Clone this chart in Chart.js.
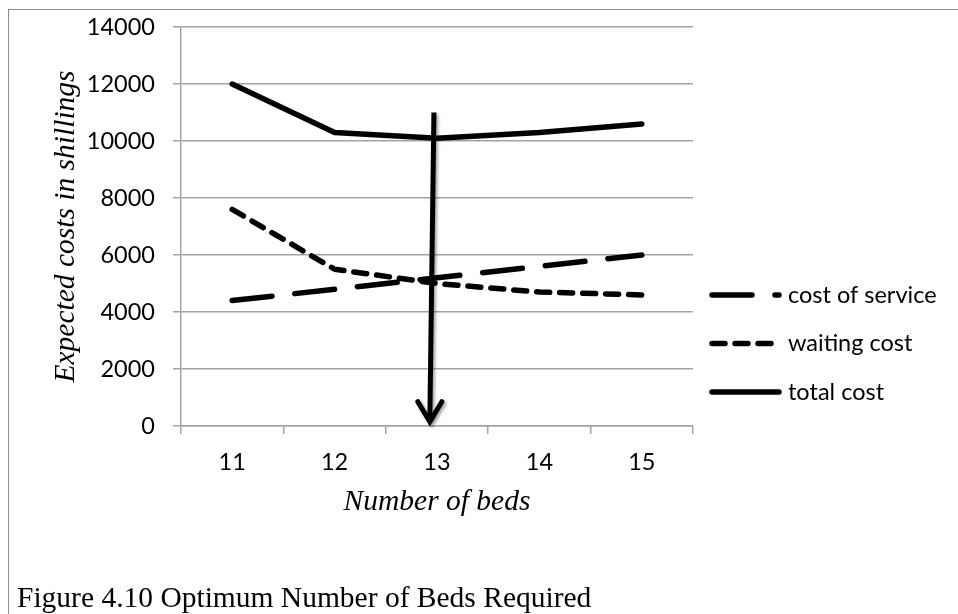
<!DOCTYPE html>
<html>
<head>
<meta charset="utf-8">
<script src="https://cdn.jsdelivr.net/npm/chart.js@4"></script>
<style>
  html, body { margin: 0; padding: 0; background: #fff; overflow: hidden; }
  #frame { position: absolute; left: 8px; top: 9px; width: 1000px; height: 700px;
           border-left: 1.5px solid #8c8c8c; border-top: 1.5px solid #8c8c8c; }
  #wrap { position: absolute; left: 0; top: 0; width: 958px; height: 614px; }
  #caption { position: absolute; left: 17px; top: 583px; color: #000; white-space: nowrap;
             font: 29.5px "Liberation Serif", "Times New Roman", serif; line-height: 29.5px; }
</style>
</head>
<body>
<div id="frame"></div>
<div id="wrap"><canvas id="c" width="958" height="614"></canvas></div>
<div id="caption">Figure 4.10 Optimum Number of Beds Required</div>
<script>
// Number of beds on the ward
const beds = ['11', '12', '13', '14', '15'];

// Expected costs (shillings) per number of beds
const serviceCost = [4400, 4800, 5200, 5600, 6000];
const waitingCost = [7600, 5500, 5000, 4700, 4600];
const totalCost   = [12000, 10300, 10100, 10300, 10600];

// Value axis ticks
const yMin = 0;
const yMax = 14000;
const yStep = 2000;

// Arrow marking the optimum: number of beds, and the cost span it covers
const optimumBeds = '13';
const arrowFrom = 11000;
const arrowTo = 150;

const sansFont = 'Lato, "Open Sans", sans-serif';
const serifFont = '"Liberation Serif", "Times New Roman", serif';
const sansSize = 23.5;
const serifSize = 29.5;
const gridGray = '#a3a3a3';

// Downward arrow at the optimum bed count
const arrowPlugin = {
  id: 'optimumArrow',
  afterDatasetsDraw(chart) {
    const {ctx, scales: {x, y}} = chart;
    const idx = beds.indexOf(optimumBeds);
    const xTop = x.getPixelForValue(idx - 0.03);
    const xTip = x.getPixelForValue(idx - 0.07);
    const yTop = y.getPixelForValue(arrowFrom);
    const yTip = y.getPixelForValue(arrowTo);
    ctx.save();
    ctx.strokeStyle = '#000';
    ctx.lineWidth = 5;
    ctx.lineCap = 'butt';
    ctx.lineJoin = 'miter';
    ctx.shadowColor = 'rgba(0,0,0,0.35)';
    ctx.shadowBlur = 3;
    ctx.shadowOffsetX = 2;
    ctx.shadowOffsetY = 2;
    ctx.beginPath();
    ctx.moveTo(xTop, yTop);
    ctx.lineTo(xTip, yTip - 2);
    ctx.stroke();
    ctx.lineCap = 'round';
    ctx.beginPath();
    ctx.moveTo(xTip - 12, yTip - 20);
    ctx.lineTo(xTip, yTip);
    ctx.lineTo(xTip + 12, yTip - 20);
    ctx.stroke();
    ctx.restore();
  }
};

// Legend at the right, with line samples in each series' own dash style
const sideLegend = {
  id: 'sideLegend',
  afterDraw(chart) {
    const {ctx, chartArea} = chart;
    const x0 = chartArea.right + 19;
    const x1 = x0 + 67;
    const yStart = 295;
    const rowGap = 48.5;
    ctx.save();
    chart.data.datasets.forEach((ds, i) => {
      const yy = yStart + i * rowGap;
      ctx.strokeStyle = ds.borderColor;
      ctx.lineWidth = ds.borderWidth;
      ctx.lineCap = 'round';
      ctx.setLineDash(ds.borderDash || []);
      ctx.beginPath();
      ctx.moveTo(x0, yy);
      ctx.lineTo(x1, yy);
      ctx.stroke();
      ctx.setLineDash([]);
      ctx.fillStyle = '#000';
      ctx.font = sansSize + 'px ' + sansFont;
      ctx.textAlign = 'left';
      ctx.textBaseline = 'middle';
      ctx.fillText(ds.label, x1 + 9, yy);
    });
    ctx.restore();
  }
};

const lineStyle = {
  borderColor: '#000',
  borderWidth: 5.5,
  borderCapStyle: 'round',
  borderJoinStyle: 'round',
  pointRadius: 0,
  pointHoverRadius: 0,
  tension: 0,
  fill: false
};

new Chart(document.getElementById('c'), {
  type: 'line',
  data: {
    labels: beds,
    datasets: [
      Object.assign({label: 'cost of service', data: serviceCost, borderDash: [40, 23]}, lineStyle),
      Object.assign({label: 'waiting cost', data: waitingCost, borderDash: [13, 10]}, lineStyle),
      Object.assign({label: 'total cost', data: totalCost}, lineStyle)
    ]
  },
  options: {
    responsive: false,
    animation: false,
    devicePixelRatio: 1,
    layout: { padding: { left: 16, top: 27, right: 265, bottom: 90 } },
    plugins: { legend: { display: false }, tooltip: { enabled: false } },
    scales: {
      x: {
        offset: true,
        grid: { display: true, drawOnChartArea: false, offset: true, tickLength: 8, color: gridGray, lineWidth: 1.5 },
        border: { display: true, color: gridGray, width: 1.5 },
        ticks: { color: '#000', font: { family: sansFont, size: sansSize }, padding: 14, maxRotation: 0 },
        title: { display: true, text: 'Number of beds', color: '#000',
                 font: { family: serifFont, size: serifSize, style: 'italic' }, padding: { top: 0, bottom: 4 } },
        afterFit(scale) { scale.height = 98; }
      },
      y: {
        min: yMin, max: yMax,
        ticks: { stepSize: yStep, color: '#000', font: { family: sansFont, size: sansSize }, padding: 18,
                 callback: (v) => String(v) },
        grid: { color: gridGray, lineWidth: 1.5, tickLength: 8 },
        border: { display: true, color: gridGray, width: 1.5 },
        title: { display: true, text: 'Expected costs in shillings', color: '#000',
                 font: { family: serifFont, size: serifSize, style: 'italic' }, padding: { top: 33, bottom: 0 } },
        afterFit(scale) {
          scale.width = 165;
          // the plot top is set by the layout padding alone
          scale.paddingTop = 0;
          scale.paddingBottom = 0;
        }
      }
    }
  },
  plugins: [arrowPlugin, sideLegend]
});
</script>
</body>
</html>
